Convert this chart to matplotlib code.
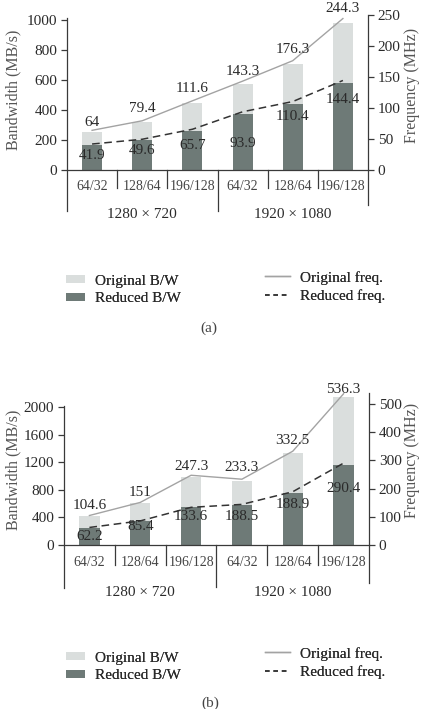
import matplotlib
matplotlib.use('Agg')
import matplotlib.pyplot as plt
from matplotlib.patches import Patch
from matplotlib.lines import Line2D

plt.rcParams['font.family'] = ['Liberation Serif', 'DejaVu Serif']

# ---------------- data ----------------
categories = ['64/32', '128/64', '196/128', '64/32', '128/64', '196/128']
groups = ['1280 × 720', '1920 × 1080']

a_orig_bw = [256, 318, 446, 573, 705, 977]
a_red_bw = [168, 198, 263, 376, 442, 578]
a_orig_freq = [64, 79.4, 111.6, 143.3, 176.3, 244.3]
a_red_freq = [41.9, 49.6, 65.7, 93.9, 110.4, 144.4]
a_orig_labels = ['64', '79.4', '111.6', '143.3', '176.3', '244.3']
a_red_labels = ['41.9', '49.6', '65.7', '93.9', '110.4', '144.4']

b_orig_bw = [418, 604, 989, 933, 1330, 2145]
b_red_bw = [249, 342, 545, 578, 756, 1162]
b_orig_freq = [104.6, 151, 247.3, 233.3, 332.5, 536.3]
b_red_freq = [62.2, 85.4, 133.6, 144.0, 188.9, 290.4]
b_orig_labels = ['104.6', '151', '247.3', '233.3', '332.5', '536.3']
b_red_labels = ['62.2', '85.4', '133.6', '188.5', '188.9', '290.4']

legend_labels_bw = ['Original B/W', 'Reduced B/W']
legend_labels_freq = ['Original freq.', 'Reduced freq.']

# ---------------- style ----------------
W, H = 421, 709
LIGHT = '#dadedd'
DARK = '#6e7a77'
LINE_LIGHT = '#a3a3a3'
LINE_DARK = '#333333'
TXT = '#2a2a2a'
AXC = '#3a3a3a'
YL = '#555555'

fig = plt.figure(figsize=(W / 100, H / 100), dpi=100)


def rect(l, t, r, b):
    return [l / W, 1 - b / H, (r - l) / W, (b - t) / H]


def panel(box, left_top, right_top, left_ticks, right_ticks,
          obw, rbw, of, rf, olab, rlab, o_off, r_off,
          sep_short, sep_long, lspine_bot, rspine_bot, lspine_top,
          cat_off, grp_off):
    l, t, r, b = box
    Hpx = b - t
    ax = fig.add_axes(rect(*box))
    ax.set_xlim(-0.5, len(categories) - 0.5)
    ax.set_ylim(0, left_top)
    ax2 = ax.twinx()
    ax2.set_ylim(0, right_top)
    x = list(range(len(categories)))
    ax.bar(x, obw, width=0.4, color=LIGHT, zorder=2)
    ax.bar(x, rbw, width=0.4, color=DARK, zorder=3)
    ax2.plot(x, of, color=LINE_LIGHT, lw=1.0, zorder=4)
    ax2.plot(x, rf, color=LINE_DARK, lw=1.1, dashes=(5, 3), zorder=4)
    for i in x:
        ax2.annotate(olab[i], (i, of[i]), xytext=(0, o_off[i] * 0.72),
                     textcoords='offset points', ha='center', va='center',
                     fontsize=11, color=TXT, zorder=6)
        ax2.annotate(rlab[i], (i, rf[i]), xytext=(0, -r_off[i] * 0.72),
                     textcoords='offset points', ha='center', va='center',
                     fontsize=11, color=TXT, zorder=6)
    for a in (ax, ax2):
        for s in a.spines.values():
            s.set_visible(False)
    ax.set_xticks([])
    ax.set_yticks(left_ticks)
    ax.tick_params(axis='y', direction='out', length=4, width=0.9,
                   color=AXC, labelsize=11, labelcolor=TXT, pad=3)
    ax2.set_yticks(right_ticks)
    ax2.tick_params(axis='y', direction='out', length=4, width=0.9,
                    color=AXC, labelsize=11, labelcolor=TXT, pad=3)
    upp = left_top / Hpx
    n = len(categories)
    kw = dict(color=AXC, lw=0.9, clip_on=False, zorder=5)
    # bottom axis line
    ax.plot([-0.5, n - 0.5], [0, 0], **kw)
    # left / right spines
    ax.plot([-0.5, -0.5], [-lspine_bot * upp, lspine_top], **kw)
    ax.plot([n - 0.5, n - 0.5], [-rspine_bot * upp, left_top], **kw)
    # separators
    for k in range(1, n):
        ln = sep_long if k == n // 2 else sep_short
        ax.plot([k - 0.5, k - 0.5], [0, -ln * upp], **kw)
    for i, c in enumerate(categories):
        ax.text(i, -cat_off * upp, c, ha='center', va='center',
                fontsize=10, color='#444444')
    ax.text(1, -grp_off * upp, groups[0], ha='center', va='center',
            fontsize=11, color=TXT)
    ax.text(4, -grp_off * upp, groups[1], ha='center', va='center',
            fontsize=11, color=TXT)
    return ax, ax2


# panel (a)
panel((67, 15, 368, 170), 1000 * 155 / 150, 250,
      [0, 200, 400, 600, 800, 1000], [0, 50, 100, 150, 200, 250],
      a_orig_bw, a_red_bw, a_orig_freq, a_red_freq, a_orig_labels, a_red_labels,
      [8, 12, 12, 10, 11, 10], [11, 11, 16, 32, 15, 19],
      18, 41, 41, 35, 1010, 16, 44)

# panel (b)
panel((64, 393, 369, 545), 2000 * 152 / 138, 539,
      [0, 400, 800, 1200, 1600, 2000], [0, 100, 200, 300, 400, 500],
      b_orig_bw, b_red_bw, b_orig_freq, b_red_freq, b_orig_labels, b_red_labels,
      [10, 10, 9, 12, 11, 4], [9, 6, 9, 12, 13, 25],
      20, 42, 43, 38, 2020, 18, 47)

# axis titles
fig.text(13 / W, 1 - 90 / H, 'Bandwidth (MB/s)', rotation=90, ha='center',
         va='center', fontsize=11.5, color=YL)
fig.text(412 / W, 1 - 85 / H, 'Frequency (MHz)', rotation=90, ha='center',
         va='center', fontsize=11.5, color=YL)
fig.text(13 / W, 1 - 470 / H, 'Bandwidth (MB/s)', rotation=90, ha='center',
         va='center', fontsize=11.5, color=YL)
fig.text(412 / W, 1 - 460 / H, 'Frequency (MHz)', rotation=90, ha='center',
         va='center', fontsize=11.5, color=YL)

# legends


def legends(y_bw, y_fr):
    h1 = [Patch(facecolor=LIGHT, edgecolor='none'),
          Patch(facecolor=DARK, edgecolor='none')]
    lg1 = fig.legend(h1, legend_labels_bw, loc='center left',
                     bbox_to_anchor=(66 / W, 1 - y_bw / H), frameon=False,
                     fontsize=11, handlelength=1.25, handleheight=0.4,
                     handletextpad=0.65, labelspacing=0.3, borderpad=0,
                     borderaxespad=0, labelcolor=TXT)
    h2 = [Line2D([], [], color=LINE_LIGHT, lw=1.0),
          Line2D([], [], color=LINE_DARK, lw=1.1, dashes=(3, 2.5))]
    lg2 = fig.legend(h2, legend_labels_freq, loc='center left',
                     bbox_to_anchor=(265 / W, 1 - y_fr / H), frameon=False,
                     fontsize=11, handlelength=1.65,
                     handletextpad=0.65, labelspacing=0.3, borderpad=0,
                     borderaxespad=0, labelcolor=TXT)
    fig.add_artist(lg1)
    fig.add_artist(lg2)


legends(290, 287)
legends(667, 663)

fig.text(209 / W, 1 - 328 / H, '(a)', ha='center', va='center', fontsize=11,
         color='#444444')
fig.text(210 / W, 1 - 703 / H, '(b)', ha='center', va='center', fontsize=11,
         color='#444444')

fig.savefig('out.png', dpi=100)
